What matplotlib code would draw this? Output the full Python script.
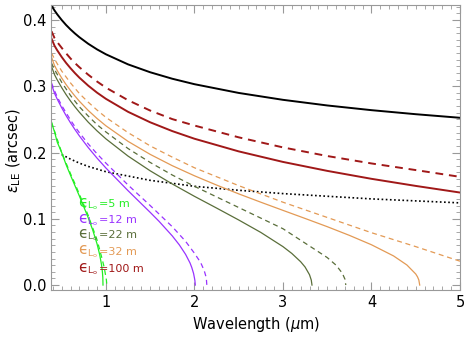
import matplotlib
matplotlib.use("Agg")
import matplotlib.pyplot as plt
from matplotlib.ticker import MultipleLocator, FormatStrFormatter

# wavelength samples (micron) and seeing values (arcsec)
lam_black = [0.385, 0.42, 0.45, 0.5, 0.55, 0.6, 0.65, 0.7, 0.8, 0.9, 1.0, 1.25, 1.5, 1.75, 2.0, 2.5,
             3.0, 3.5, 4.0, 4.5, 5.0]
eps_black = [0.4215, 0.4142, 0.4085, 0.400, 0.3924, 0.3857, 0.3796, 0.3740, 0.3641, 0.3556, 0.3482,
             0.3330, 0.3211, 0.3113, 0.3031, 0.2899, 0.2795, 0.2710, 0.2639, 0.2578, 0.2524]

lam_dot = [0.5, 0.6, 0.7, 0.8, 1.0, 1.5, 2.0, 2.5, 3.0, 3.5, 4.0, 4.5, 5.0]
eps_dot = [0.197, 0.190, 0.184, 0.179, 0.171, 0.158, 0.149, 0.143, 0.138, 0.134, 0.130, 0.127, 0.124]

# L0 = 100 m (same wavelengths as the black curve)
eps_100 = [0.372, 0.3609, 0.3542, 0.3442, 0.3352, 0.3272, 0.3198, 0.3130, 0.3009, 0.2903, 0.2810,
           0.2614, 0.2456, 0.2323, 0.2208, 0.2017, 0.1858, 0.1723, 0.1603, 0.1496, 0.1396]
eps_100d = [0.383, 0.3725, 0.3666, 0.358, 0.3497, 0.3419, 0.3350, 0.3287, 0.3174, 0.3071, 0.2979,
            0.2789, 0.2633, 0.2504, 0.2407, 0.2229, 0.2077, 0.1947, 0.1835, 0.1735, 0.1633]

# L0 = 32 m
lam_32 = [0.385, 0.42, 0.45, 0.5, 0.55, 0.6, 0.65, 0.7, 0.8, 0.9, 1.0, 1.25, 1.5, 1.75, 2.0, 2.25,
          2.5, 2.75, 3.0, 3.25, 3.5, 3.75, 4.0, 4.25, 4.4, 4.5, 4.52, 4.535, 4.545]
eps_32 = [0.344, 0.3310, 0.3236, 0.3125, 0.3025, 0.2935, 0.2852, 0.2774, 0.2635, 0.2513, 0.2403,
          0.2168, 0.1972, 0.1801, 0.1649, 0.1509, 0.1376, 0.1250, 0.1127, 0.1005, 0.0881, 0.0750,
          0.0608, 0.0439, 0.0303, 0.0167, 0.0124, 0.0077, 0.0]
lam_32d = [0.385, 0.42, 0.45, 0.5, 0.55, 0.6, 0.65, 0.7, 0.8, 0.9, 1.0, 1.25, 1.5, 1.75, 2.0, 2.5,
           3.0, 3.5, 4.0, 4.5, 4.75, 5.0]
eps_32d = [0.350, 0.341, 0.334, 0.323, 0.314, 0.305, 0.297, 0.289, 0.276, 0.264, 0.253, 0.230, 0.210,
           0.193, 0.177, 0.150, 0.125, 0.102, 0.079, 0.058, 0.047, 0.036]

# L0 = 22 m
lam_22 = [0.385, 0.42, 0.45, 0.5, 0.55, 0.6, 0.65, 0.7, 0.8, 0.9, 1.0, 1.25, 1.5, 1.75, 2.0, 2.25,
          2.5, 2.75, 3.0, 3.1, 3.2, 3.25, 3.3, 3.32, 3.328]
eps_22 = [0.330, 0.3173, 0.3096, 0.2980, 0.2874, 0.2778, 0.2690, 0.2608, 0.2458, 0.2326, 0.2206,
          0.1946, 0.1724, 0.1525, 0.1339, 0.1162, 0.0982, 0.0794, 0.0580, 0.0477, 0.0352, 0.0272,
          0.0156, 0.0075, 0.0]
lam_22d = [0.385, 0.42, 0.45, 0.5, 0.55, 0.6, 0.65, 0.7, 0.8, 0.9, 1.0, 1.25, 1.5, 1.75, 2.0, 2.5,
           3.0, 3.38, 3.5, 3.6, 3.67, 3.7, 3.71]
eps_22d = [0.335, 0.325, 0.318, 0.306, 0.296, 0.286, 0.2775, 0.269, 0.255, 0.242, 0.231, 0.206, 0.185,
           0.166, 0.149, 0.117, 0.085, 0.052, 0.0415, 0.030, 0.018, 0.009, 0.0]

# L0 = 12 m
lam_12 = [0.385, 0.42, 0.45, 0.5, 0.55, 0.6, 0.65, 0.7, 0.8, 0.9, 1.0, 1.25, 1.5, 1.6, 1.75, 1.83,
          1.9, 1.95, 1.97, 1.99, 2.0, 2.005, 2.01]
eps_12 = [0.303, 0.2891, 0.2806, 0.2676, 0.2557, 0.2448, 0.2347, 0.2251, 0.2075, 0.1915, 0.1766,
          0.1424, 0.1097, 0.0962, 0.0741, 0.0605, 0.0463, 0.0334, 0.0265, 0.0176, 0.0108, 0.007, 0.0]
lam_12d = [0.385, 0.42, 0.45, 0.5, 0.55, 0.6, 0.65, 0.7, 0.8, 0.9, 1.0, 1.25, 1.5, 1.75, 1.9, 2.0,
           2.07, 2.11, 2.13, 2.135, 2.14]
eps_12d = [0.305, 0.293, 0.284, 0.271, 0.260, 0.249, 0.239, 0.230, 0.213, 0.198, 0.184, 0.151, 0.120,
           0.088, 0.066, 0.048, 0.034, 0.022, 0.0128, 0.009, 0.0]

# L0 = 5 m
lam_5 = [0.385, 0.42, 0.45, 0.5, 0.55, 0.6, 0.65, 0.7, 0.8, 0.85, 0.9, 0.93, 0.95, 0.96, 0.965, 0.967]
eps_5 = [0.245, 0.231, 0.2157, 0.200, 0.1817, 0.1657, 0.1500, 0.1344, 0.1016, 0.0834, 0.0620, 0.0456,
         0.0309, 0.0201, 0.0115, 0.0]
lam_5d = [0.385, 0.42, 0.5, 0.55, 0.6, 0.65, 0.7, 0.8, 0.9, 0.95, 0.98, 1.0, 1.005, 1.01]
eps_5d = [0.246, 0.232, 0.200, 0.184, 0.168, 0.153, 0.137, 0.105, 0.068, 0.043, 0.027, 0.012, 0.008, 0.0]

labels = ['=5 m', '=12 m', '=22 m', '=32 m', '=100 m']
label_y = [0.125, 0.101, 0.0785, 0.053, 0.027]
colors = ['#22ee22', '#9933ff', '#5a6e3a', '#e39a55', '#a01818']

plt.rcParams['font.family'] = ['DejaVu Sans']
fig = plt.figure(figsize=(4.71, 3.49), dpi=100)
ax = fig.add_axes([0.1093, 0.169, 0.8673, 0.8167])

ax.plot(lam_black, eps_black, color='black', lw=1.4)
ax.plot(lam_dot, eps_dot, color='black', lw=1.2, linestyle=(0, (1, 1.5)))

series = [(lam_5, eps_5, lam_5d, eps_5d), (lam_12, eps_12, lam_12d, eps_12d),
          (lam_22, eps_22, lam_22d, eps_22d), (lam_32, eps_32, lam_32d, eps_32d),
          (lam_black, eps_100, lam_black, eps_100d)]
widths = [0.9, 0.9, 0.9, 0.9, 1.4]
for (ls, es, ld, ed), c, w in zip(series, colors, widths):
    ax.plot(ls, es, color=c, lw=w)
    ax.plot(ld, ed, color=c, lw=w, linestyle=(0, (4, 3)))

# curve labels: big epsilon, subscript L_o, then the outer scale
for lab, yv, c in zip(labels, label_y, colors):
    ax.text(0.684, yv, '\u03f5', color=c, fontsize=11, va='center', ha='left')
    ax.annotate(r'$\mathregular{L_o}$', (0.684, yv), xytext=(6.8, -2.6), textcoords='offset points',
                color=c, fontsize=6.5, va='center', ha='left')
    ax.annotate(lab, (0.684, yv), xytext=(15.0, -1.2), textcoords='offset points', color=c,
                fontsize=8, va='center', ha='left')

ax.set_xlim(0.385, 5.0)
ax.set_ylim(-0.0075, 0.4226)
ax.xaxis.set_major_locator(MultipleLocator(1))
ax.xaxis.set_minor_locator(MultipleLocator(0.1))
ax.yaxis.set_major_locator(MultipleLocator(0.1))
ax.yaxis.set_minor_locator(MultipleLocator(0.01))
ax.yaxis.set_major_formatter(FormatStrFormatter('%.1f'))
ax.tick_params(which='both', direction='in', top=True, right=True, color='#999999', labelsize=10.5)
ax.tick_params(which='major', length=6)
ax.tick_params(which='minor', length=3)
for sp in ax.spines.values():
    sp.set_color('#999999')

ax.set_xlabel(r'Wavelength ($\mu$m)', fontsize=10.5)
ax.set_ylabel(r'$\varepsilon_{\mathregular{LE}}$ (arcsec)', fontsize=10.5)
ax.yaxis.set_label_coords(-0.07, 0.49)

fig.savefig('out.png', dpi=100)
